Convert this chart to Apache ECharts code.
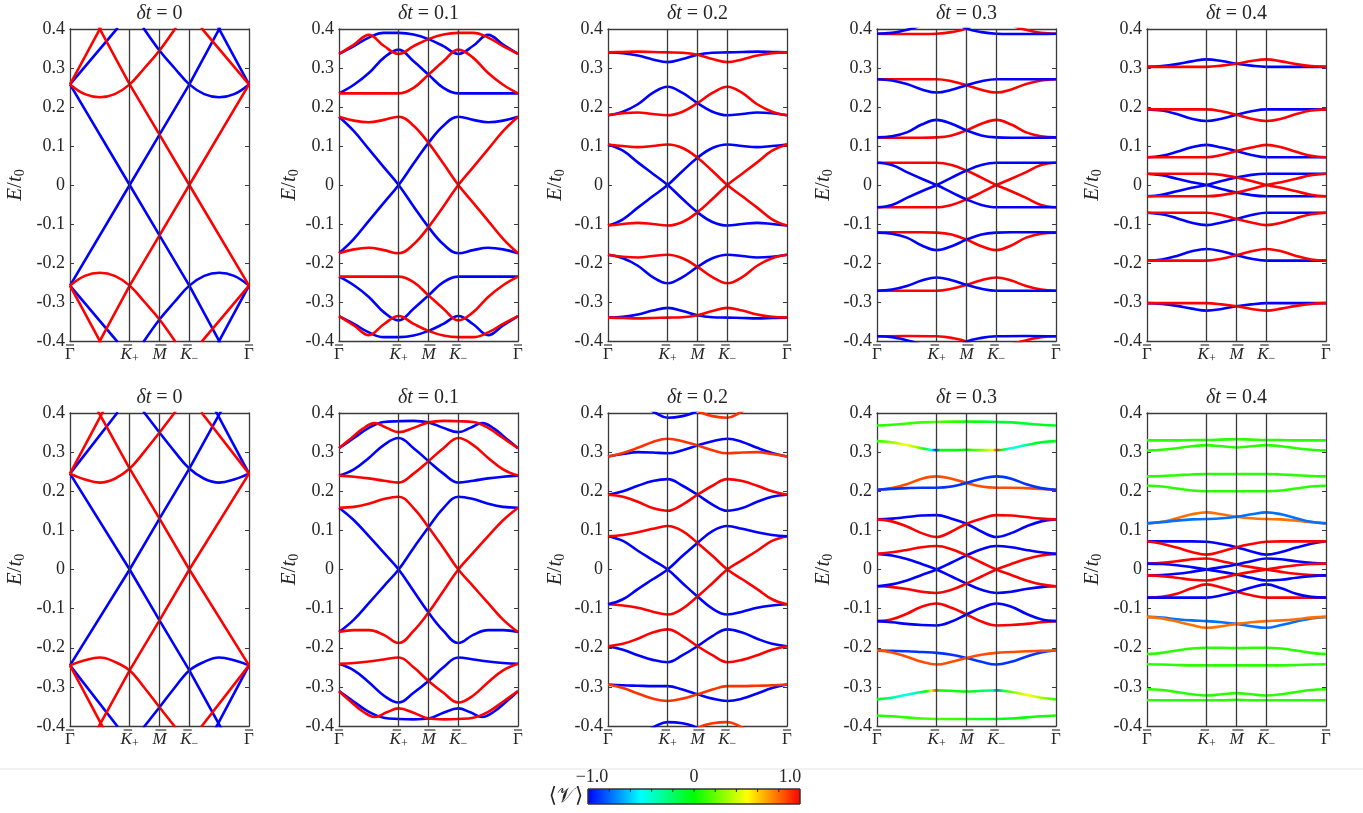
<!DOCTYPE html>
<html><head><meta charset="utf-8">
<script src="https://cdn.jsdelivr.net/npm/echarts@6/dist/echarts.min.js"></script>
<style>html,body{margin:0;padding:0;background:#fff}#c{width:1363px;height:813px}</style>
</head><body><div id="c"></div>
<script>
// ---------- data ----------
const kGrid = [0,0.5,1,1.5,2,2.5,3,3.5,4,4.5,5,5.5,6];
const kPoints = [0,2,3,4,6];
const kLabels = ['{g|Γ}','{i|K}{s|+}','{i|M}','{i|K}{s|−}','{g|Γ}'];
const dtValues = ['0','0.1','0.2','0.3','0.4'];
const colorbarStops = [-1,-0.5,0,0.5,1];
const colorbarTicks = [-0.8,-0.6,-0.4,-0.2,0,0.2,0.4,0.6,0.8];
const colorbarLabels = ['−1.0','0','1.0'];
const G = 0.08;

const top0 = [
 {v:-1,s:0,p:[[0,0.258],[2,0],[3,-0.129],[4,-0.258],[5.1,-0.414]]},
 {v:-1,s:0,p:[[0,-0.258],[2,0],[3,0.129],[4,0.258],[5.1,0.414]]},
 {v:-1,s:0,p:[[0,0.258],[1.6,0.403]]},
 {v:-1,s:0,p:[[0,-0.258],[1.6,-0.403]]},
 {v:-1,p:[[2.45,0.404],[3,0.345],[3.5,0.3],[4,0.258],[4.5,0.233],[5,0.225],[5.5,0.233],[6,0.258]]},
 {v:-1,p:[[2.45,-0.404],[3,-0.345],[3.5,-0.3],[4,-0.258],[4.5,-0.233],[5,-0.225],[5.5,-0.233],[6,-0.258]]},
 {v:-1,s:0,p:[[4.9,0.414],[6,0.258]]},
 {v:-1,s:0,p:[[4.9,-0.414],[6,-0.258]]},
 {v:1,s:0,p:[[0.9,0.414],[2,0.258],[3,0.129],[4,0],[6,-0.258]]},
 {v:1,s:0,p:[[0.9,-0.414],[2,-0.258],[3,-0.129],[4,0],[6,0.258]]},
 {v:1,s:0,p:[[4.4,0.403],[6,0.258]]},
 {v:1,s:0,p:[[4.4,-0.403],[6,-0.258]]},
 {v:1,p:[[0,0.258],[0.5,0.233],[1,0.225],[1.5,0.233],[2,0.258],[2.5,0.3],[3,0.345],[3.55,0.404]]},
 {v:1,p:[[0,-0.258],[0.5,-0.233],[1,-0.225],[1.5,-0.233],[2,-0.258],[2.5,-0.3],[3,-0.345],[3.55,-0.404]]},
 {v:1,s:0,p:[[0,0.258],[1.1,0.414]]},
 {v:1,s:0,p:[[0,-0.258],[1.1,-0.414]]}
];
const top1 = [
 {v:-1,e:[0.175,0.138,0.092,0.046,0,-0.055,-0.108,-0.152,-0.175,-0.167,-0.161,-0.165,-0.175]},
 {v:-1,e:[-0.175,-0.138,-0.092,-0.046,0,0.055,0.108,0.152,0.175,0.167,0.161,0.165,0.175]},
 {v:-1,e:[0.235,0.257,0.287,0.326,0.347,0.317,0.283,0.249,0.235,0.235,0.235,0.235,0.235]},
 {v:-1,e:[-0.235,-0.257,-0.287,-0.326,-0.347,-0.317,-0.283,-0.249,-0.235,-0.235,-0.235,-0.235,-0.235]},
 {v:-1,e:[0.336,0.356,0.378,0.39,0.39,0.386,0.374,0.356,0.336,0.357,0.385,0.36,0.336]},
 {v:-1,e:[-0.336,-0.356,-0.378,-0.39,-0.39,-0.386,-0.374,-0.356,-0.336,-0.357,-0.385,-0.36,-0.336]},
 {v:1,e:[-0.175,-0.165,-0.161,-0.167,-0.175,-0.152,-0.108,-0.055,0,0.046,0.092,0.138,0.175]},
 {v:1,e:[0.175,0.165,0.161,0.167,0.175,0.152,0.108,0.055,0,-0.046,-0.092,-0.138,-0.175]},
 {v:1,e:[0.235,0.235,0.235,0.235,0.235,0.249,0.283,0.317,0.347,0.326,0.287,0.257,0.235]},
 {v:1,e:[-0.235,-0.235,-0.235,-0.235,-0.235,-0.249,-0.283,-0.317,-0.347,-0.326,-0.287,-0.257,-0.235]},
 {v:1,e:[0.336,0.36,0.385,0.357,0.336,0.356,0.374,0.386,0.39,0.39,0.378,0.356,0.336]},
 {v:1,e:[-0.336,-0.36,-0.385,-0.357,-0.336,-0.356,-0.374,-0.386,-0.39,-0.39,-0.378,-0.356,-0.336]}
];
const top2 = [
 {v:-1,e:[0.34,0.338,0.332,0.322,0.315,0.323,0.334,0.339,0.34,0.341,0.342,0.341,0.34]},
 {v:-1,e:[0.179,0.188,0.207,0.236,0.252,0.236,0.21,0.188,0.179,0.182,0.186,0.184,0.179]},
 {v:-1,e:[0.104,0.088,0.058,0.029,0,-0.036,-0.07,-0.095,-0.104,-0.1,-0.097,-0.1,-0.104]},
 {v:-1,e:[-0.104,-0.088,-0.058,-0.029,0,0.036,0.07,0.095,0.104,0.1,0.097,0.1,0.104]},
 {v:-1,e:[-0.179,-0.188,-0.207,-0.236,-0.252,-0.236,-0.21,-0.188,-0.179,-0.182,-0.186,-0.184,-0.179]},
 {v:-1,e:[-0.34,-0.338,-0.332,-0.322,-0.315,-0.323,-0.334,-0.339,-0.34,-0.341,-0.342,-0.341,-0.34]},
 {v:1,e:[0.34,0.341,0.342,0.341,0.34,0.339,0.334,0.323,0.315,0.322,0.332,0.338,0.34]},
 {v:1,e:[0.179,0.184,0.186,0.182,0.179,0.188,0.21,0.236,0.252,0.236,0.207,0.188,0.179]},
 {v:1,e:[-0.104,-0.1,-0.097,-0.1,-0.104,-0.095,-0.07,-0.036,0,0.029,0.058,0.088,0.104]},
 {v:1,e:[0.104,0.1,0.097,0.1,0.104,0.095,0.07,0.036,0,-0.029,-0.058,-0.088,-0.104]},
 {v:1,e:[-0.179,-0.184,-0.186,-0.182,-0.179,-0.188,-0.21,-0.236,-0.252,-0.236,-0.207,-0.188,-0.179]},
 {v:1,e:[-0.34,-0.341,-0.342,-0.341,-0.34,-0.339,-0.334,-0.323,-0.315,-0.322,-0.332,-0.338,-0.34]}
];
const top3 = [
 {v:1,p:[[4.5,0.41],[4.8,0.402],[5.1,0.396],[5.5,0.39],[6,0.388]]},
 {v:1,p:[[0,0.388],[1,0.387],[2,0.388],[2.5,0.392],[3,0.401],[3.2,0.412]]},
 {v:1,e:[0.271,0.271,0.271,0.271,0.271,0.266,0.256,0.244,0.237,0.245,0.259,0.268,0.271]},
 {v:1,e:[0.122,0.121,0.121,0.121,0.122,0.127,0.14,0.157,0.167,0.155,0.135,0.125,0.122]},
 {v:1,e:[-0.057,-0.057,-0.057,-0.057,-0.057,-0.051,-0.037,-0.019,0,0.016,0.033,0.051,0.057]},
 {v:1,e:[0.057,0.057,0.057,0.057,0.057,0.051,0.037,0.019,0,-0.016,-0.033,-0.051,-0.057]},
 {v:1,e:[-0.122,-0.121,-0.121,-0.121,-0.122,-0.127,-0.14,-0.157,-0.167,-0.155,-0.135,-0.125,-0.122]},
 {v:1,e:[-0.271,-0.271,-0.271,-0.271,-0.271,-0.266,-0.256,-0.244,-0.237,-0.245,-0.259,-0.268,-0.271]},
 {v:1,p:[[4.5,-0.41],[4.8,-0.402],[5.1,-0.396],[5.5,-0.39],[6,-0.388]]},
 {v:1,p:[[0,-0.388],[1,-0.387],[2,-0.388],[2.5,-0.392],[3,-0.401],[3.2,-0.412]]},
 {v:-1,p:[[0,0.388],[0.5,0.39],[0.9,0.396],[1.2,0.402],[1.5,0.41]]},
 {v:-1,p:[[2.8,0.412],[3,0.401],[3.5,0.392],[4,0.388],[5,0.387],[6,0.388]]},
 {v:-1,e:[0.271,0.268,0.259,0.245,0.237,0.244,0.256,0.266,0.271,0.271,0.271,0.271,0.271]},
 {v:-1,e:[0.122,0.125,0.135,0.155,0.167,0.157,0.14,0.127,0.122,0.121,0.121,0.121,0.122]},
 {v:-1,e:[0.057,0.051,0.033,0.016,0,-0.019,-0.037,-0.051,-0.057,-0.057,-0.057,-0.057,-0.057]},
 {v:-1,e:[-0.057,-0.051,-0.033,-0.016,0,0.019,0.037,0.051,0.057,0.057,0.057,0.057,0.057]},
 {v:-1,e:[-0.122,-0.125,-0.135,-0.155,-0.167,-0.157,-0.14,-0.127,-0.122,-0.121,-0.121,-0.121,-0.122]},
 {v:-1,e:[-0.271,-0.268,-0.259,-0.245,-0.237,-0.244,-0.256,-0.266,-0.271,-0.271,-0.271,-0.271,-0.271]},
 {v:-1,p:[[0,-0.388],[0.5,-0.39],[0.9,-0.396],[1.2,-0.402],[1.5,-0.41]]},
 {v:-1,p:[[2.8,-0.412],[3,-0.401],[3.5,-0.392],[4,-0.388],[5,-0.387],[6,-0.388]]}
];
const top4 = [
 {v:-1,e:[0.303,0.305,0.31,0.317,0.322,0.318,0.311,0.306,0.303,0.303,0.303,0.303,0.303]},
 {v:-1,e:[0.194,0.191,0.182,0.17,0.164,0.17,0.18,0.189,0.194,0.194,0.194,0.194,0.194]},
 {v:-1,e:[0.071,0.075,0.085,0.097,0.103,0.096,0.087,0.077,0.071,0.071,0.071,0.071,0.071]},
 {v:-1,e:[0.029,0.025,0.016,0.007,0,-0.01,-0.019,-0.026,-0.029,-0.029,-0.029,-0.029,-0.029]},
 {v:-1,e:[-0.029,-0.025,-0.016,-0.007,0,0.01,0.019,0.026,0.029,0.029,0.029,0.029,0.029]},
 {v:-1,e:[-0.071,-0.075,-0.085,-0.097,-0.103,-0.096,-0.087,-0.077,-0.071,-0.071,-0.071,-0.071,-0.071]},
 {v:-1,e:[-0.194,-0.191,-0.182,-0.17,-0.164,-0.17,-0.18,-0.189,-0.194,-0.194,-0.194,-0.194,-0.194]},
 {v:-1,e:[-0.303,-0.305,-0.31,-0.317,-0.322,-0.318,-0.311,-0.306,-0.303,-0.303,-0.303,-0.303,-0.303]},
 {v:1,e:[0.303,0.303,0.303,0.303,0.303,0.306,0.311,0.318,0.322,0.317,0.31,0.305,0.303]},
 {v:1,e:[0.194,0.194,0.194,0.194,0.194,0.189,0.18,0.17,0.164,0.17,0.182,0.191,0.194]},
 {v:1,e:[0.071,0.071,0.071,0.071,0.071,0.077,0.087,0.096,0.103,0.097,0.085,0.075,0.071]},
 {v:1,e:[-0.029,-0.029,-0.029,-0.029,-0.029,-0.026,-0.019,-0.01,0,0.007,0.016,0.025,0.029]},
 {v:1,e:[0.029,0.029,0.029,0.029,0.029,0.026,0.019,0.01,0,-0.007,-0.016,-0.025,-0.029]},
 {v:1,e:[-0.071,-0.071,-0.071,-0.071,-0.071,-0.077,-0.087,-0.096,-0.103,-0.097,-0.085,-0.075,-0.071]},
 {v:1,e:[-0.194,-0.194,-0.194,-0.194,-0.194,-0.189,-0.18,-0.17,-0.164,-0.17,-0.182,-0.191,-0.194]},
 {v:1,e:[-0.303,-0.303,-0.303,-0.303,-0.303,-0.306,-0.311,-0.318,-0.322,-0.317,-0.31,-0.305,-0.303]}
];
const bot0 = [
 {v:-1,s:0,p:[[0,0.245],[2,0],[3,-0.13],[4,-0.258],[5.1,-0.41]]},
 {v:-1,s:0,p:[[0,-0.245],[2,0],[3,0.13],[4,0.258],[5.1,0.41]]},
 {v:-1,s:0,p:[[0,0.245],[1.6,0.402]]},
 {v:-1,s:0,p:[[0,-0.245],[1.6,-0.402]]},
 {v:-1,p:[[2.45,0.405],[3,0.35],[3.5,0.302],[4,0.258],[4.5,0.232],[5,0.222],[5.5,0.23],[6,0.245]]},
 {v:-1,p:[[2.45,-0.405],[3,-0.352],[3.5,-0.303],[4,-0.258],[4.5,-0.236],[5,-0.225],[5.5,-0.232],[6,-0.245]]},
 {v:-1,s:0,p:[[4.85,0.41],[6,0.245]]},
 {v:-1,s:0,p:[[4.85,-0.41],[6,-0.245]]},
 {v:1,s:0,p:[[0.9,0.41],[2,0.258],[3,0.13],[4,0],[6,-0.245]]},
 {v:1,s:0,p:[[0.9,-0.41],[2,-0.258],[3,-0.13],[4,0],[6,0.245]]},
 {v:1,s:0,p:[[4.4,0.402],[6,0.245]]},
 {v:1,s:0,p:[[4.4,-0.402],[6,-0.245]]},
 {v:1,p:[[0,0.245],[0.5,0.23],[1,0.222],[1.5,0.232],[2,0.258],[2.5,0.302],[3,0.35],[3.55,0.405]]},
 {v:1,p:[[0,-0.245],[0.5,-0.232],[1,-0.225],[1.5,-0.236],[2,-0.258],[2.5,-0.303],[3,-0.352],[3.55,-0.405]]},
 {v:1,s:0,p:[[0,0.245],[1.15,0.41]]},
 {v:1,s:0,p:[[0,-0.245],[1.15,-0.41]]}
];
const bot1 = [
 {v:-1,e:[0.158,0.126,0.085,0.043,0,-0.055,-0.11,-0.157,-0.188,-0.167,-0.155,-0.155,-0.16]},
 {v:-1,e:[-0.16,-0.128,-0.086,-0.043,0,0.055,0.108,0.157,0.186,0.18,0.168,0.16,0.158]},
 {v:-1,e:[0.24,0.256,0.285,0.318,0.336,0.31,0.277,0.245,0.222,0.227,0.233,0.237,0.24]},
 {v:-1,e:[-0.241,-0.258,-0.288,-0.322,-0.34,-0.315,-0.285,-0.25,-0.225,-0.23,-0.235,-0.239,-0.241]},
 {v:-1,p:[[0,0.31],[0.5,0.336],[1,0.362],[1.5,0.377],[2,0.379],[2.5,0.38],[3,0.376],[3.5,0.362],[4,0.351],[4.4,0.362],[4.8,0.374],[5.2,0.36],[5.6,0.335],[6,0.31]]},
 {v:-1,p:[[0,-0.311],[0.5,-0.338],[1,-0.364],[1.5,-0.379],[2,-0.382],[2.5,-0.383],[3,-0.381],[3.5,-0.366],[4,-0.355],[4.4,-0.365],[4.8,-0.377],[5.2,-0.363],[5.6,-0.338],[6,-0.311]]},
 {v:1,e:[-0.16,-0.155,-0.155,-0.167,-0.188,-0.157,-0.11,-0.055,0,0.043,0.085,0.126,0.158]},
 {v:1,e:[0.158,0.16,0.168,0.18,0.186,0.157,0.108,0.055,0,-0.043,-0.086,-0.128,-0.16]},
 {v:1,e:[0.24,0.237,0.233,0.227,0.222,0.245,0.277,0.31,0.336,0.318,0.285,0.256,0.24]},
 {v:1,e:[-0.241,-0.239,-0.235,-0.23,-0.225,-0.25,-0.285,-0.315,-0.34,-0.322,-0.288,-0.258,-0.241]},
 {v:1,p:[[0,0.31],[0.4,0.335],[0.8,0.36],[1.2,0.374],[1.6,0.362],[2,0.351],[2.5,0.362],[3,0.376],[3.5,0.38],[4,0.379],[4.5,0.377],[5,0.362],[5.5,0.336],[6,0.31]]},
 {v:1,p:[[0,-0.311],[0.4,-0.338],[0.8,-0.363],[1.2,-0.377],[1.6,-0.365],[2,-0.355],[2.5,-0.366],[3,-0.381],[3.5,-0.383],[4,-0.382],[4.5,-0.379],[5,-0.364],[5.5,-0.338],[6,-0.311]]}
];
const bot2 = [
 {v:-1,p:[[1.35,0.412],[1.6,0.4],[2,0.388],[2.5,0.392],[2.85,0.4],[3.1,0.412]]},
 {v:0.9,p:[[2.9,0.412],[3.15,0.4],[3.5,0.392],[4,0.388],[4.4,0.4],[4.65,0.412]]},
 {v:-1,e:[0.289,0.295,0.3,0.299,0.297,0.305,0.317,0.328,0.334,0.326,0.311,0.298,0.289]},
 {v:0.9,e:[0.289,0.298,0.311,0.326,0.334,0.328,0.317,0.305,0.297,0.299,0.3,0.295,0.289]},
 {v:-1,e:[0.191,0.2,0.214,0.226,0.231,0.214,0.191,0.166,0.15,0.157,0.173,0.186,0.191]},
 {v:1,e:[0.191,0.186,0.173,0.157,0.15,0.166,0.191,0.214,0.231,0.226,0.214,0.2,0.191]},
 {v:-1,e:[0.085,0.073,0.048,0.024,0,-0.035,-0.069,-0.1,-0.115,-0.108,-0.098,-0.092,-0.089]},
 {v:1,e:[-0.089,-0.092,-0.098,-0.108,-0.115,-0.1,-0.069,-0.035,0,0.024,0.048,0.073,0.085]},
 {v:-1,e:[-0.089,-0.076,-0.05,-0.025,0,0.035,0.068,0.098,0.111,0.104,0.095,0.088,0.085]},
 {v:1,e:[0.085,0.088,0.095,0.104,0.111,0.098,0.068,0.035,0,-0.025,-0.05,-0.076,-0.089]},
 {v:-1,e:[-0.196,-0.205,-0.219,-0.231,-0.237,-0.219,-0.196,-0.17,-0.153,-0.161,-0.177,-0.19,-0.196]},
 {v:1,e:[-0.196,-0.19,-0.177,-0.161,-0.153,-0.17,-0.196,-0.219,-0.237,-0.231,-0.219,-0.205,-0.196]},
 {v:-1,e:[-0.294,-0.296,-0.297,-0.298,-0.298,-0.307,-0.319,-0.33,-0.336,-0.33,-0.317,-0.303,-0.294]},
 {v:0.9,e:[-0.294,-0.303,-0.317,-0.33,-0.336,-0.33,-0.319,-0.307,-0.298,-0.298,-0.297,-0.296,-0.294]},
 {v:-1,p:[[1.35,-0.412],[1.6,-0.4],[2,-0.39],[2.5,-0.393],[2.85,-0.4],[3.1,-0.412]]},
 {v:0.9,p:[[2.9,-0.412],[3.15,-0.4],[3.5,-0.393],[4,-0.39],[4.4,-0.4],[4.65,-0.412]]}
];
const bot3 = [
 {v:[[0,0.05],[2,0.15],[3,0.05],[4,-0.1],[6,-0.05]],e:[0.368,0.37,0.373,0.376,0.377,0.378,0.378,0.378,0.377,0.376,0.373,0.37,0.368]},
 {v:[[0,0.05],[0.6,0.3],[1,0.5],[1.4,0.3],[1.6,0.05],[1.85,-0.45],[2,-0.9],[2.15,-0.05],[3,0],[3.85,0.45],[4,0.9],[4.15,0.05],[4.4,-0.45],[4.7,-0.45],[5.2,-0.1],[6,-0.05]],e:[0.328,0.325,0.318,0.31,0.305,0.305,0.306,0.305,0.305,0.31,0.318,0.325,0.328]},
 {v:0.85,e:[0.204,0.208,0.218,0.232,0.238,0.232,0.221,0.212,0.209,0.209,0.208,0.206,0.204]},
 {v:-0.9,e:[0.204,0.206,0.208,0.209,0.209,0.212,0.221,0.232,0.238,0.232,0.218,0.208,0.204]},
 {v:-1,e:[0.128,0.13,0.134,0.138,0.139,0.13,0.117,0.097,0.083,0.093,0.11,0.123,0.128]},
 {v:1,e:[0.128,0.123,0.11,0.093,0.083,0.097,0.117,0.13,0.139,0.138,0.134,0.13,0.128]},
 {v:-1,e:[0.04,0.036,0.027,0.014,0,-0.018,-0.036,-0.052,-0.06,-0.057,-0.05,-0.045,-0.043]},
 {v:1,e:[-0.043,-0.045,-0.05,-0.057,-0.06,-0.052,-0.036,-0.018,0,0.014,0.027,0.036,0.04]},
 {v:-1,e:[-0.043,-0.038,-0.028,-0.014,0,0.018,0.036,0.052,0.06,0.057,0.05,0.044,0.04]},
 {v:1,e:[0.04,0.044,0.05,0.057,0.06,0.052,0.036,0.018,0,-0.014,-0.028,-0.038,-0.043]},
 {v:1,e:[-0.132,-0.127,-0.113,-0.095,-0.087,-0.098,-0.115,-0.133,-0.143,-0.142,-0.139,-0.135,-0.132]},
 {v:-1,e:[-0.132,-0.135,-0.139,-0.142,-0.143,-0.133,-0.115,-0.098,-0.087,-0.095,-0.113,-0.127,-0.132]},
 {v:-0.9,e:[-0.207,-0.208,-0.209,-0.211,-0.213,-0.218,-0.226,-0.236,-0.243,-0.236,-0.223,-0.212,-0.207]},
 {v:0.85,e:[-0.207,-0.212,-0.223,-0.236,-0.243,-0.236,-0.226,-0.218,-0.213,-0.211,-0.209,-0.208,-0.207]},
 {v:[[0,0],[0.6,-0.3],[1,-0.5],[1.4,-0.3],[1.7,0],[1.85,0.45],[2,0.85],[2.15,0.05],[3,0],[3.85,-0.3],[4,-0.75],[4.15,-0.1],[4.6,0.3],[5,0.5],[5.5,0.3],[6,0.05]],e:[-0.332,-0.328,-0.32,-0.313,-0.309,-0.31,-0.312,-0.31,-0.309,-0.313,-0.32,-0.328,-0.332]},
 {v:[[0,0.05],[2,0.15],[4,-0.05],[6,0.05]],e:[-0.373,-0.375,-0.378,-0.381,-0.382,-0.382,-0.382,-0.382,-0.382,-0.381,-0.378,-0.375,-0.373]}
];
const bot4 = [
 {v:G,e:[0.33,0.33,0.33,0.331,0.331,0.332,0.333,0.332,0.331,0.331,0.33,0.33,0.33]},
 {v:G,e:[0.304,0.306,0.31,0.315,0.318,0.315,0.312,0.315,0.318,0.315,0.31,0.306,0.304]},
 {v:G,e:[0.238,0.239,0.241,0.243,0.244,0.244,0.244,0.244,0.244,0.243,0.241,0.239,0.238]},
 {v:G,e:[0.214,0.212,0.207,0.202,0.2,0.2,0.2,0.2,0.2,0.202,0.207,0.212,0.214]},
 {v:0.78,e:[0.118,0.122,0.131,0.141,0.146,0.141,0.135,0.131,0.129,0.128,0.125,0.121,0.118]},
 {v:-0.78,e:[0.118,0.121,0.125,0.128,0.129,0.131,0.135,0.141,0.146,0.141,0.131,0.122,0.118]},
 {v:-1,e:[0.072,0.072,0.072,0.072,0.071,0.065,0.057,0.046,0.038,0.045,0.056,0.066,0.072]},
 {v:1,e:[0.072,0.066,0.056,0.045,0.038,0.046,0.057,0.065,0.071,0.072,0.072,0.072,0.072]},
 {v:1,e:[0.015,0.017,0.021,0.026,0.028,0.021,0.013,0.006,0,-0.006,-0.011,-0.014,-0.015]},
 {v:-1,e:[-0.015,-0.014,-0.011,-0.006,0,0.006,0.013,0.021,0.028,0.026,0.021,0.017,0.015]},
 {v:-1,e:[0.015,0.014,0.011,0.006,0,-0.006,-0.013,-0.021,-0.028,-0.026,-0.021,-0.017,-0.015]},
 {v:1,e:[-0.015,-0.017,-0.021,-0.026,-0.028,-0.021,-0.013,-0.006,0,0.006,0.011,0.014,0.015]},
 {v:1,e:[-0.072,-0.07,-0.062,-0.048,-0.038,-0.046,-0.057,-0.066,-0.072,-0.072,-0.072,-0.072,-0.072]},
 {v:-1,e:[-0.072,-0.072,-0.072,-0.072,-0.072,-0.066,-0.057,-0.046,-0.038,-0.048,-0.062,-0.07,-0.072]},
 {v:-0.78,e:[-0.121,-0.123,-0.127,-0.13,-0.132,-0.135,-0.139,-0.145,-0.149,-0.142,-0.133,-0.125,-0.121]},
 {v:0.78,e:[-0.121,-0.125,-0.133,-0.142,-0.149,-0.145,-0.139,-0.135,-0.132,-0.13,-0.127,-0.123,-0.121]},
 {v:G,e:[-0.216,-0.213,-0.207,-0.202,-0.2,-0.2,-0.201,-0.2,-0.2,-0.202,-0.207,-0.213,-0.216]},
 {v:G,e:[-0.242,-0.243,-0.244,-0.245,-0.245,-0.245,-0.245,-0.245,-0.245,-0.245,-0.244,-0.243,-0.242]},
 {v:G,e:[-0.306,-0.308,-0.313,-0.319,-0.322,-0.319,-0.316,-0.319,-0.322,-0.319,-0.313,-0.308,-0.306]},
 {v:G,e:[-0.334,-0.334,-0.334,-0.334,-0.334,-0.334,-0.333,-0.334,-0.334,-0.334,-0.334,-0.334,-0.334]}
];

// ---------- layout / style ----------
const panelRows = [[top0,top1,top2,top3,top4],[bot0,bot1,bot2,bot3,bot4]];
const colLeft = [70,339,608,877,1147];
const nameGaps = [43,34,41,42,43];
const rowTop = [29,413];
const rowH = [312,313];
const panelW = 179;
const SERIF = '"Liberation Serif","DejaVu Serif",serif';
const TXT = '#262626';
const AX = '#3a3a3a';
// macron (bar accent) placement relative to each k-label: [dx, width]
const macronStyle = [[0,8],[-1.8,8.5],[1.4,11],[-1.8,8.5],[0,8]];

function vColor(v){
  const h = 120*(1-v)/60, i = Math.min(4, Math.floor(h)), f = h - i;
  let r,g,b;
  if(i===0){r=1;g=f;b=0;} else if(i===1){r=1-f;g=1;b=0;}
  else if(i===2){r=0;g=1;b=f;} else if(i===3){r=0;g=1-f;b=1;} else {r=0;g=0;b=1;}
  const t = x => Math.round(x*255);
  return 'rgb('+t(r)+','+t(g)+','+t(b)+')';
}
const rich = {
  g:{fontFamily:SERIF,fontSize:17,color:TXT,lineHeight:20},
  i:{fontFamily:SERIF,fontStyle:'italic',fontSize:17,color:TXT,lineHeight:20},
  s:{fontFamily:SERIF,fontSize:12,color:TXT,lineHeight:12,verticalAlign:'bottom'},
  t:{fontFamily:SERIF,fontStyle:'italic',fontSize:20,color:TXT,lineHeight:22},
  u:{fontFamily:SERIF,fontSize:20,color:TXT,lineHeight:22},
  e:{fontFamily:SERIF,fontStyle:'italic',fontSize:21,color:TXT,lineHeight:24},
  n:{fontFamily:SERIF,fontSize:21,color:TXT,lineHeight:24},
  z:{fontFamily:SERIF,fontSize:14,color:TXT,lineHeight:14,verticalAlign:'bottom'}
};

const grids=[], xAxes=[], yAxes=[], series=[];
panelRows.forEach((row, ri) => row.forEach((curves, ci) => {
  const gi = grids.length;
  grids.push({left:colLeft[ci], top:rowTop[ri], width:panelW, height:rowH[ri], containLabel:false});
  xAxes.push({gridIndex:gi, type:'value', min:0, max:6, interval:1, position:'bottom',
    axisLine:{show:true,onZero:false,lineStyle:{color:AX,width:1.3}}, axisTick:{show:false}, splitLine:{show:false},
    axisLabel:{margin:4, formatter:(val)=>{const k=kPoints.indexOf(val); return k<0?'':kLabels[k];}, rich}});
  xAxes.push({gridIndex:gi, type:'value', min:0, max:6, position:'top',
    axisLine:{show:true,onZero:false,lineStyle:{color:AX,width:1.3}}, axisTick:{show:false}, axisLabel:{show:false}, splitLine:{show:false},
    name:'{t|δt}{u| = '+dtValues[ci]+'}', nameLocation:'middle', nameGap:4, nameTextStyle:{rich}});
  yAxes.push({gridIndex:gi, type:'value', min:-0.4, max:0.4, interval:0.1, position:'left',
    axisLine:{show:true,onZero:false,lineStyle:{color:AX,width:1.3}},
    axisTick:{show:true,inside:true,length:4,lineStyle:{color:AX}}, splitLine:{show:false},
    axisLabel:{margin:5, color:TXT, fontFamily:SERIF, fontSize:18, formatter:(v)=>Math.abs(v)<1e-9?'0':v.toFixed(1)},
    name:'{e|E}{n|/}{e|t}{z|0}', nameLocation:'middle', nameRotate:90, nameGap:nameGaps[ci], nameTextStyle:{rich}});
  yAxes.push({gridIndex:gi, type:'value', min:-0.4, max:0.4, interval:0.1, position:'right',
    axisLine:{show:true,onZero:false,lineStyle:{color:AX,width:1.3}},
    axisTick:{show:true,inside:true,length:4,lineStyle:{color:AX}}, axisLabel:{show:false}, splitLine:{show:false}});
  curves.forEach(c => {
    const data = c.e ? kGrid.map((x,i)=>[x,c.e[i]]) : c.p;
    let color;
    if (Array.isArray(c.v)) {
      const xs = data.map(d=>d[0]); const x0 = Math.min(...xs), x1 = Math.max(...xs);
      color = {type:'linear',x:0,y:0,x2:1,y2:0,colorStops:c.v.map(([x,v])=>({offset:(x-x0)/(x1-x0),color:vColor(v)}))};
    } else color = vColor(c.v);
    series.push({type:'line', xAxisIndex:2*gi, yAxisIndex:2*gi, data, showSymbol:false, symbol:'none',
      smooth: c.s===0 ? false : 0.4, clip:true, silent:true, z:2,
      lineStyle:{width:2.6,color}, itemStyle:{color: Array.isArray(c.v)?vColor(0):color}});
  });
  series.push({type:'line', xAxisIndex:2*gi, yAxisIndex:2*gi, data:[], silent:true, z:5,
    markLine:{silent:true, symbol:['none','none'], label:{show:false}, animation:false,
      lineStyle:{color:AX,width:1.3,type:'solid'},
      data: kPoints.slice(1,-1).map(x=>({xAxis:x}))}});
}));

// colorbar
const cb = {x:588, y:789, w:212, h:15};
const cbPos = v => cb.x + (v+1)/2*cb.w;
const graphic = [
  {type:'line', shape:{x1:0,y1:769,x2:1363,y2:769}, style:{stroke:'#e4e4e4',lineWidth:1}},
  {type:'rect', shape:{x:cb.x,y:cb.y,width:cb.w,height:cb.h},
   style:{fill:{type:'linear',x:0,y:0,x2:1,y2:0,colorStops:colorbarStops.map(v=>({offset:(v+1)/2,color:vColor(v)}))}, stroke:'#333', lineWidth:1}},
  ...colorbarTicks.map(t=>({type:'line', shape:{x1:cbPos(t),y1:cb.y,x2:cbPos(t),y2:cb.y+3}, style:{stroke:'#222',lineWidth:1}})),
  ...[-1,0,1].map((t,k)=>({type:'text', x:cbPos(t)+[4,0,-10][k], y:777,
     style:{text:colorbarLabels[k], font:'18px '+SERIF, fill:TXT, align:'center', verticalAlign:'middle', textAlign:'center', textVerticalAlign:'middle'}})),
  {type:'text', x:566, y:797, style:{text:'⟨𝒱⟩', font:'21px "DejaVu Serif",serif', fill:TXT, align:'center', verticalAlign:'middle', textAlign:'center', textVerticalAlign:'middle'}}
];

const chart = echarts.init(document.getElementById('c'), null, {renderer:'canvas'});
chart.setOption({animation:false, backgroundColor:'#fff', grid:grids, xAxis:xAxes, yAxis:yAxes, series, graphic});

// bar accents over the k-point labels, positioned through the axis scale
const accents = [];
grids.forEach((g, gi) => {
  const yb = g.top + g.height + 4;
  kPoints.forEach((k, j) => {
    const px = chart.convertToPixel({xAxisIndex: 2*gi}, k);
    const [dx, w] = macronStyle[j];
    accents.push({type:'line', silent:true, shape:{x1:px+dx-w/2, y1:yb, x2:px+dx+w/2, y2:yb}, style:{stroke:TXT, lineWidth:1.1}});
  });
});
chart.setOption({graphic: graphic.concat(accents)});
</script></body></html>
